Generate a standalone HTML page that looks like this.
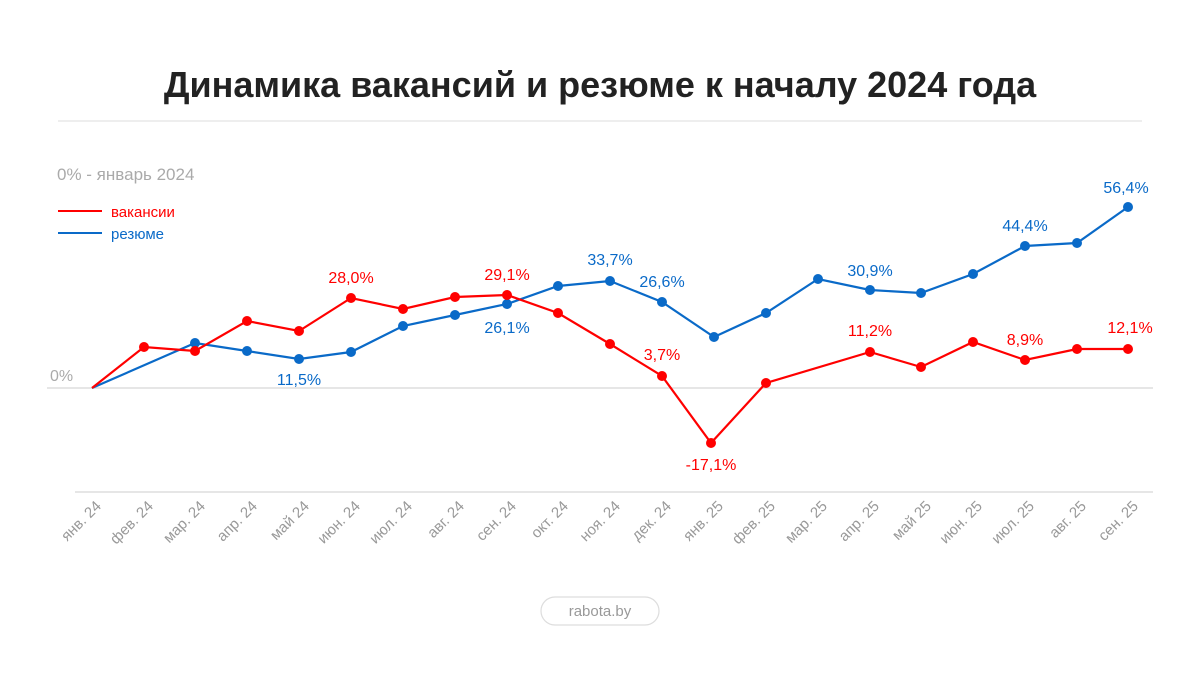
<!DOCTYPE html>
<html><head><meta charset="utf-8"><style>
html,body{margin:0;padding:0;background:#fff;}
svg{display:block;font-family:"Liberation Sans",sans-serif;}
</style></head><body>
<svg width="1200" height="696" viewBox="0 0 1200 696" xmlns="http://www.w3.org/2000/svg">
<text x="600" y="97" text-anchor="middle" font-size="36" font-weight="bold" fill="#222">Динамика вакансий и резюме к началу 2024 года</text>
<line x1="58" y1="121" x2="1142" y2="121" stroke="#dedede" stroke-width="1"/>
<text x="57" y="180" font-size="17" fill="#aaa">0% - январь 2024</text>
<line x1="58" y1="211" x2="102" y2="211" stroke="#f00" stroke-width="2"/>
<text x="111" y="217" font-size="15" fill="#f00">вакансии</text>
<line x1="58" y1="233" x2="102" y2="233" stroke="#0a6ac8" stroke-width="2"/>
<text x="111" y="239" font-size="15" fill="#0a6ac8">резюме</text>
<text x="50" y="381" font-size="16" fill="#aaa">0%</text>
<line x1="47" y1="388" x2="1153" y2="388" stroke="#ddd" stroke-width="1.5"/>
<line x1="75" y1="492" x2="1153" y2="492" stroke="#ddd" stroke-width="1.5"/>
<g font-size="15" fill="#999" text-anchor="end">
<text transform="translate(102,507) rotate(-45)">янв. 24</text>
<text transform="translate(154,507) rotate(-45)">фев. 24</text>
<text transform="translate(206,507) rotate(-45)">мар. 24</text>
<text transform="translate(258,507) rotate(-45)">апр. 24</text>
<text transform="translate(310,507) rotate(-45)">май 24</text>
<text transform="translate(361,507) rotate(-45)">июн. 24</text>
<text transform="translate(413,507) rotate(-45)">июл. 24</text>
<text transform="translate(465,507) rotate(-45)">авг. 24</text>
<text transform="translate(517,507) rotate(-45)">сен. 24</text>
<text transform="translate(569,507) rotate(-45)">окт. 24</text>
<text transform="translate(621,507) rotate(-45)">ноя. 24</text>
<text transform="translate(672,507) rotate(-45)">дек. 24</text>
<text transform="translate(724,507) rotate(-45)">янв. 25</text>
<text transform="translate(776,507) rotate(-45)">фев. 25</text>
<text transform="translate(828,507) rotate(-45)">мар. 25</text>
<text transform="translate(880,507) rotate(-45)">апр. 25</text>
<text transform="translate(932,507) rotate(-45)">май 25</text>
<text transform="translate(983,507) rotate(-45)">июн. 25</text>
<text transform="translate(1035,507) rotate(-45)">июл. 25</text>
<text transform="translate(1087,507) rotate(-45)">авг. 25</text>
<text transform="translate(1139,507) rotate(-45)">сен. 25</text>
</g>
<polyline fill="none" stroke="#0a6ac8" stroke-width="2.2" points="92,388 195,343 247,351 299,359 351,352 403,326 455,315 507,304 558,286 610,281 662,302 714,337 766,313 818,279 870,290 921,293 973,274 1025,246 1077,243 1128,207"/>
<g fill="#0a6ac8">
<circle cx="195" cy="343" r="5"/><circle cx="247" cy="351" r="5"/><circle cx="299" cy="359" r="5"/><circle cx="351" cy="352" r="5"/><circle cx="403" cy="326" r="5"/><circle cx="455" cy="315" r="5"/><circle cx="507" cy="304" r="5"/><circle cx="558" cy="286" r="5"/><circle cx="610" cy="281" r="5"/><circle cx="662" cy="302" r="5"/><circle cx="714" cy="337" r="5"/><circle cx="766" cy="313" r="5"/><circle cx="818" cy="279" r="5"/><circle cx="870" cy="290" r="5"/><circle cx="921" cy="293" r="5"/><circle cx="973" cy="274" r="5"/><circle cx="1025" cy="246" r="5"/><circle cx="1077" cy="243" r="5"/><circle cx="1128" cy="207" r="5"/>
</g>
<polyline fill="none" stroke="#f00" stroke-width="2.2" points="92,388 144,347 195,351 247,321 299,331 351,298 403,309 455,297 507,295 558,313 610,344 662,376 711,443 766,383 870,352 921,367 973,342 1025,360 1077,349 1128,349"/>
<g fill="#f00">
<circle cx="144" cy="347" r="5"/><circle cx="195" cy="351" r="5"/><circle cx="247" cy="321" r="5"/><circle cx="299" cy="331" r="5"/><circle cx="351" cy="298" r="5"/><circle cx="403" cy="309" r="5"/><circle cx="455" cy="297" r="5"/><circle cx="507" cy="295" r="5"/><circle cx="558" cy="313" r="5"/><circle cx="610" cy="344" r="5"/><circle cx="662" cy="376" r="5"/><circle cx="711" cy="443" r="5"/><circle cx="766" cy="383" r="5"/><circle cx="870" cy="352" r="5"/><circle cx="921" cy="367" r="5"/><circle cx="973" cy="342" r="5"/><circle cx="1025" cy="360" r="5"/><circle cx="1077" cy="349" r="5"/><circle cx="1128" cy="349" r="5"/>
</g>
<g font-size="16" text-anchor="middle" fill="#f00">
<text x="351" y="283">28,0%</text>
<text x="507" y="280">29,1%</text>
<text x="662" y="360">3,7%</text>
<text x="711" y="470">-17,1%</text>
<text x="870" y="336">11,2%</text>
<text x="1025" y="345">8,9%</text>
<text x="1130" y="333">12,1%</text>
</g>
<g font-size="16" text-anchor="middle" fill="#0a6ac8">
<text x="299" y="385">11,5%</text>
<text x="507" y="333">26,1%</text>
<text x="610" y="265">33,7%</text>
<text x="662" y="287">26,6%</text>
<text x="870" y="276">30,9%</text>
<text x="1025" y="231">44,4%</text>
<text x="1126" y="193">56,4%</text>
</g>
<rect x="541" y="597" width="118" height="28" rx="14" fill="#fff" stroke="#ddd" stroke-width="1.2"/>
<text x="600" y="616" text-anchor="middle" font-size="15" fill="#999">rabota.by</text>
</svg>
</body></html>
